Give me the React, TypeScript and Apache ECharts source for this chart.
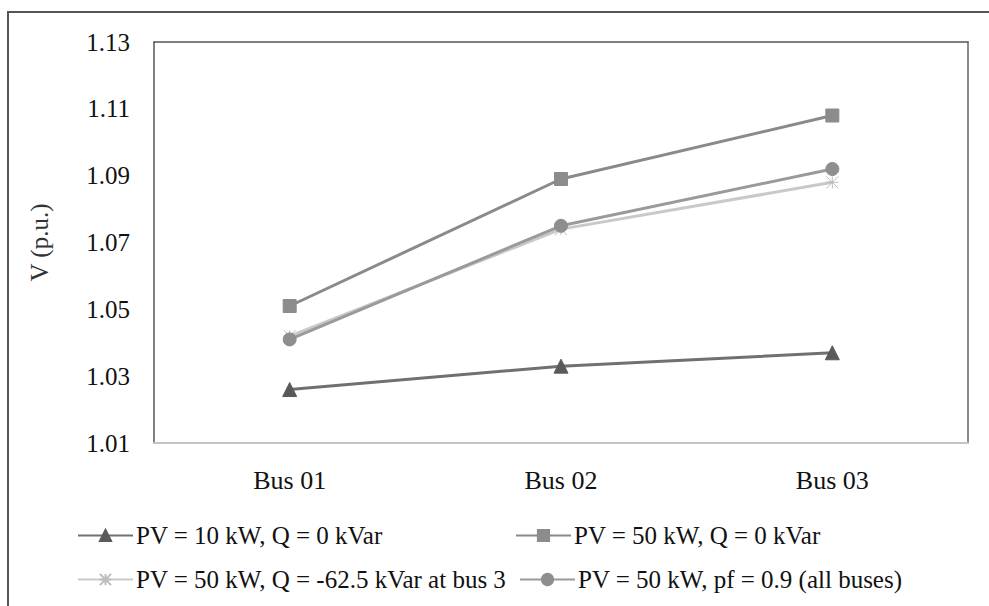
import React, { useEffect, useRef } from "react";
import * as echarts from "echarts";

const categories = ["Bus 01", "Bus 02", "Bus 03"];
const yTicks = [1.01, 1.03, 1.05, 1.07, 1.09, 1.11, 1.13];
const seriesNames = [
  "PV = 10 kW, Q = 0 kVar",
  "PV = 50 kW, Q = 0 kVar",
  "PV = 50 kW, Q = -62.5 kVar at bus 3",
  "PV = 50 kW, pf = 0.9 (all buses)",
];
const pv10Q0 = [1.026, 1.033, 1.037];
const pv50Q0 = [1.051, 1.089, 1.108];
const pv50Qneg = [1.042, 1.074, 1.088];
const pv50pf09 = [1.041, 1.075, 1.092];

const FONT = "Liberation Serif";
const crossPath =
  "path://M0,0 L10,10 M10,0 L0,10 M5,0 L5,10 M0,5 L10,5";

export default function App() {
  const ref = useRef<HTMLDivElement>(null);
  useEffect(() => {
    if (!ref.current) return;
    const chart = echarts.init(ref.current, null, { renderer: "svg" });
    const mk = (
      name: string,
      data: number[],
      lineColor: string,
      markColor: string,
      symbol: string,
      size: number
    ) => ({
      type: "line",
      name,
      data,
      symbol,
      symbolSize: size,
      lineStyle: { color: lineColor, width: 3 },
      itemStyle: { color: markColor, borderColor: markColor, borderWidth: 1 },
      emphasis: { disabled: true },
    });
    const legendItem = (name: string, left: number, top: number) => ({
      data: [name],
      left,
      top,
      itemWidth: 55,
      itemHeight: 14,
      itemGap: 2,
      textStyle: { fontFamily: FONT, fontSize: 25, color: "#111", padding: [0, 0, 0, -2] },
    });
    chart.setOption({
      animation: false,
      backgroundColor: "#fff",
      graphic: [
        {
          type: "rect",
          shape: { x: 8, y: 12, width: 1000, height: 700 },
          style: { fill: "none", stroke: "#555", lineWidth: 2 },
          silent: true,
        },
      ],
      grid: { left: 154, right: 21, top: 42, bottom: 163, show: false },
      legend: [
        legendItem(seriesNames[0], 72, 518),
        legendItem(seriesNames[1], 510, 518),
        legendItem(seriesNames[2], 72, 562),
        legendItem(seriesNames[3], 514, 562),
      ],
      xAxis: [
        {
          type: "category",
          data: categories,
          boundaryGap: true,
          axisLine: { show: true, lineStyle: { color: "#c4c4c4", width: 2 } },
          axisTick: { show: false },
          axisLabel: { fontFamily: FONT, fontSize: 26, color: "#111", margin: 24 },
          splitLine: { show: false },
        },
        {
          type: "category",
          data: categories,
          position: "top",
          axisLine: { show: true, lineStyle: { color: "#555", width: 1.5 } },
          axisTick: { show: false },
          axisLabel: { show: false },
        },
      ],
      yAxis: [
        {
          type: "value",
          min: 1.01,
          max: 1.13,
          interval: 0.02,
          name: "V (p.u.)",
          nameLocation: "middle",
          nameGap: 102,
          nameTextStyle: { fontFamily: FONT, fontSize: 25, color: "#333" },
          axisLine: { show: true, lineStyle: { color: "#555", width: 1.5 } },
          axisTick: { show: false },
          splitLine: { show: false },
          axisLabel: {
            fontFamily: FONT,
            fontSize: 25,
            color: "#111",
            margin: 24,
            formatter: (v: number) => {
              const t = yTicks.find((x) => Math.abs(x - v) < 1e-6);
              return t !== undefined ? t.toFixed(2) : "";
            },
          },
        },
        {
          type: "value",
          min: 1.01,
          max: 1.13,
          interval: 0.02,
          position: "right",
          axisLine: { show: true, lineStyle: { color: "#666", width: 1.5 } },
          axisTick: { show: false },
          axisLabel: { show: false },
          splitLine: { show: false },
        },
      ],
      series: [
        mk(seriesNames[0], pv10Q0, "#707070", "#5a5a5a", "triangle", 14),
        mk(seriesNames[1], pv50Q0, "#8a8a8a", "#8c8c8c", "rect", 13),
        mk(seriesNames[2], pv50Qneg, "#c9c9c9", "#bdbdbd", crossPath, 12),
        mk(seriesNames[3], pv50pf09, "#9a9a9a", "#8e8e8e", "circle", 13),
      ],
    });
    return () => chart.dispose();
  }, []);
  return (
    <div
      ref={ref}
      style={{ position: "fixed", left: 0, top: 0, width: 989, height: 606 }}
    />
  );
}
